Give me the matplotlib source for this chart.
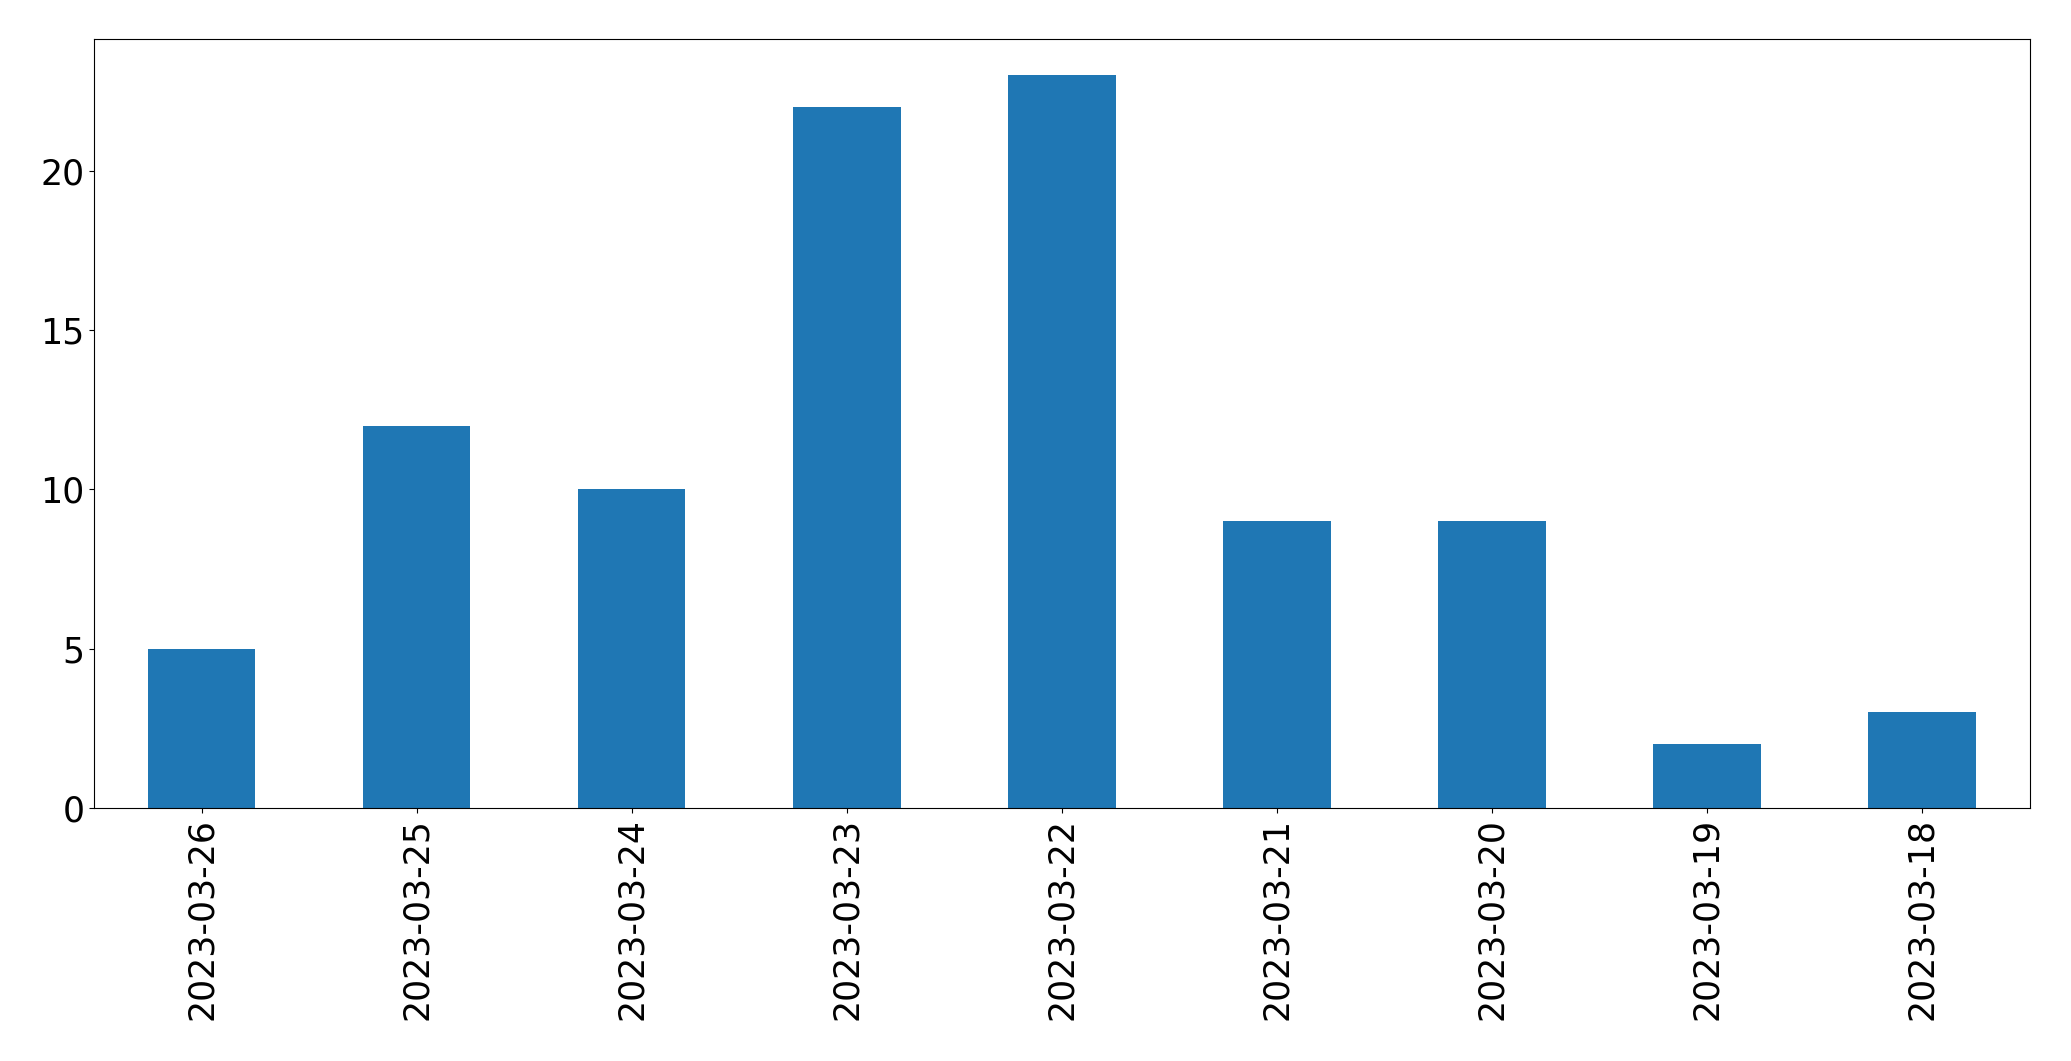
import matplotlib

matplotlib.use("Agg")
import matplotlib.pyplot as plt

# Daily counts, newest first
dates = [
    "2023-03-26", "2023-03-25", "2023-03-24", "2023-03-23", "2023-03-22",
    "2023-03-21", "2023-03-20", "2023-03-19", "2023-03-18",
]
counts = [5, 12, 10, 22, 23, 9, 9, 2, 3]

fig = plt.figure(figsize=(20.71, 10.61), dpi=100)
ax = fig.add_axes([0.0454, 0.2385, 0.9346, 0.7250])

x = range(len(dates))
ax.bar(x, counts, width=0.5, color="#1f77b4")
ax.set_xlim(-0.5, len(dates) - 0.5)
ax.set_ylim(0, max(counts) * 1.05)
ax.set_xticks(list(x))
ax.set_xticklabels(dates, rotation=90)
ax.set_yticks([0, 5, 10, 15, 20])
ax.tick_params(labelsize=25)

fig.savefig("out.png", dpi=100)
